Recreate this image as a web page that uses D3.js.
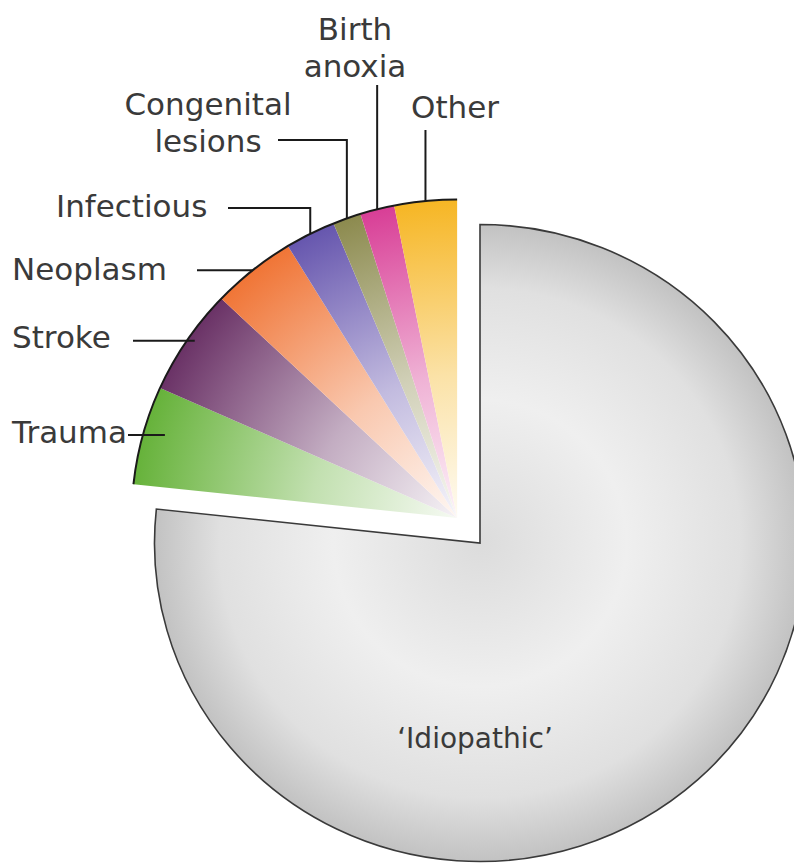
<!DOCTYPE html>
<html>
<head>
<meta charset="utf-8">
<script src="https://cdn.jsdelivr.net/npm/d3@7"></script>
<style>
  body { margin: 0; background: #fff; }
  svg { display: block; }
  .label { font-family: "DejaVu Sans", sans-serif; font-size: 31px; fill: #3a3a3a; }
  .leader { stroke: #1a1a1a; stroke-width: 2; fill: none; }
</style>
</head>
<body>
<script>
// data (share of cases, %)
const causes = ["Idiopathic", "Trauma", "Stroke", "Neoplasm", "Infectious", "Congenital lesions", "Birth anoxia", "Other"];
const shares = [76.7, 5.0, 5.4, 4.2, 2.5, 1.4, 1.7, 3.1];
const sliceColors = ["#c4c4c4", "#66b23a", "#6a3266", "#f07536", "#6656ae", "#8c8a4e", "#d83e96", "#f6b624"];
// label text lines
const labelLines = {
  "Idiopathic": ["\u2018Idiopathic\u2019"],
  "Trauma": ["Trauma"],
  "Stroke": ["Stroke"],
  "Neoplasm": ["Neoplasm"],
  "Infectious": ["Infectious"],
  "Congenital lesions": ["Congenital", "lesions"],
  "Birth anoxia": ["Birth", "anoxia"],
  "Other": ["Other"]
};

const width = 794, height = 865;
const cx = 480, cy = 543, radius = 318.5, xStretch = 1.022, explode = 33.5;

const svg = d3.select("body").append("svg")
  .attr("width", width)
  .attr("height", height);

const defs = svg.append("defs");

const data = causes.map((c, i) => ({ name: c, value: shares[i], color: sliceColors[i] }));

const pie = d3.pie().sort(null).value(d => d.value);
const arcs = pie(data);
const arc = d3.arc().innerRadius(0).outerRadius(radius);

// small slices pulled out together along their common bisector
const small = arcs.slice(1);
const midAll = (small[0].startAngle + small[small.length - 1].endAngle) / 2;
const off = [Math.sin(midAll) * explode, -Math.cos(midAll) * explode];

// gradients
arcs.forEach((a, i) => {
  const g = defs.append("radialGradient")
    .attr("id", "grad" + i)
    .attr("gradientUnits", "userSpaceOnUse")
    .attr("cx", 0).attr("cy", 0).attr("r", radius);
  if (i === 0) {
    g.append("stop").attr("offset", 0).attr("stop-color", "#dcdcdc");
    g.append("stop").attr("offset", 0.45).attr("stop-color", "#efefef");
    g.append("stop").attr("offset", 0.8).attr("stop-color", "#e0e0e0");
    g.append("stop").attr("offset", 1).attr("stop-color", "#c2c2c2");
  } else {
    const mix = d3.interpolateRgb("#ffffff", a.data.color);
    g.append("stop").attr("offset", 0).attr("stop-color", mix(0.06));
    g.append("stop").attr("offset", 0.45).attr("stop-color", mix(0.4));
    g.append("stop").attr("offset", 0.8).attr("stop-color", mix(0.78));
    g.append("stop").attr("offset", 1).attr("stop-color", mix(1));
  }
});

const pieG = svg.append("g")
  .attr("transform", `translate(${cx},${cy}) scale(${xStretch},1)`);

// main slice
pieG.append("path")
  .attr("d", arc(arcs[0]))
  .attr("fill", "url(#grad0)")
  .attr("stroke", "#3a3a3a")
  .attr("stroke-width", 1.6)
  .attr("vector-effect", "non-scaling-stroke");

// exploded group
const exG = pieG.append("g")
  .attr("transform", `translate(${off[0]},${off[1]})`);

exG.selectAll("path.slice")
  .data(small)
  .join("path")
  .attr("class", "slice")
  .attr("d", arc)
  .attr("fill", (d, i) => `url(#grad${i + 1})`);

// outline along the outer arc of the exploded group
exG.append("path")
  .attr("d", d3.arc().innerRadius(radius).outerRadius(radius)({
    startAngle: small[0].startAngle,
    endAngle: small[small.length - 1].endAngle
  }))
  .attr("fill", "none")
  .attr("stroke", "#1a1a1a")
  .attr("stroke-width", 2)
  .attr("vector-effect", "non-scaling-stroke");

// anchor point on the outer arc of each small slice, in page coords
const anchor = (a) => {
  const m = (a.startAngle + a.endAngle) / 2;
  return [
    cx + (Math.sin(m) * radius + off[0]) * xStretch,
    cy - Math.cos(m) * radius + off[1]
  ];
};

// label layout: text position, leader type and leader reach
const labelLayout = {
  "Trauma":             { x: 12,  y: 443, anchor: "start",  kind: "h", from: 128, inset: 22 },
  "Stroke":             { x: 12,  y: 348, anchor: "start",  kind: "h", from: 133, inset: 8 },
  "Neoplasm":           { x: 12,  y: 280, anchor: "start",  kind: "h", from: 197, inset: 0 },
  "Infectious":         { x: 56,  y: 217, anchor: "start",  kind: "elbow", from: 228, level: 208 },
  "Congenital lesions": { x: 208, y: 115, anchor: "middle", kind: "elbow", from: 278, level: 140, dy: 37 },
  "Birth anoxia":       { x: 355, y: 40,  anchor: "middle", kind: "v", level: 85, dy: 37 },
  "Other":              { x: 455, y: 118, anchor: "middle", kind: "v", level: 130 }
};

small.forEach(a => {
  const name = a.data.name, L = labelLayout[name];
  const [px, py] = anchor(a);
  let pts;
  if (L.kind === "h") pts = [[L.from, py], [px + L.inset, py]];
  else if (L.kind === "v") pts = [[px, L.level], [px, py]];
  else pts = [[L.from, L.level], [px, L.level], [px, py]];
  svg.append("path")
    .attr("class", "leader")
    .attr("d", d3.line()(pts));

  const t = svg.append("text")
    .attr("class", "label")
    .attr("text-anchor", L.anchor);
  labelLines[name].forEach((s, k) => {
    t.append("tspan")
      .attr("x", L.x)
      .attr("y", L.y + k * (L.dy || 0))
      .text(s);
  });
});

// main slice label
svg.append("text")
  .attr("class", "label")
  .attr("text-anchor", "middle")
  .attr("x", 475)
  .attr("y", 748)
  .style("font-size", "28px")
  .text(labelLines["Idiopathic"][0]);
</script>
</body>
</html>
